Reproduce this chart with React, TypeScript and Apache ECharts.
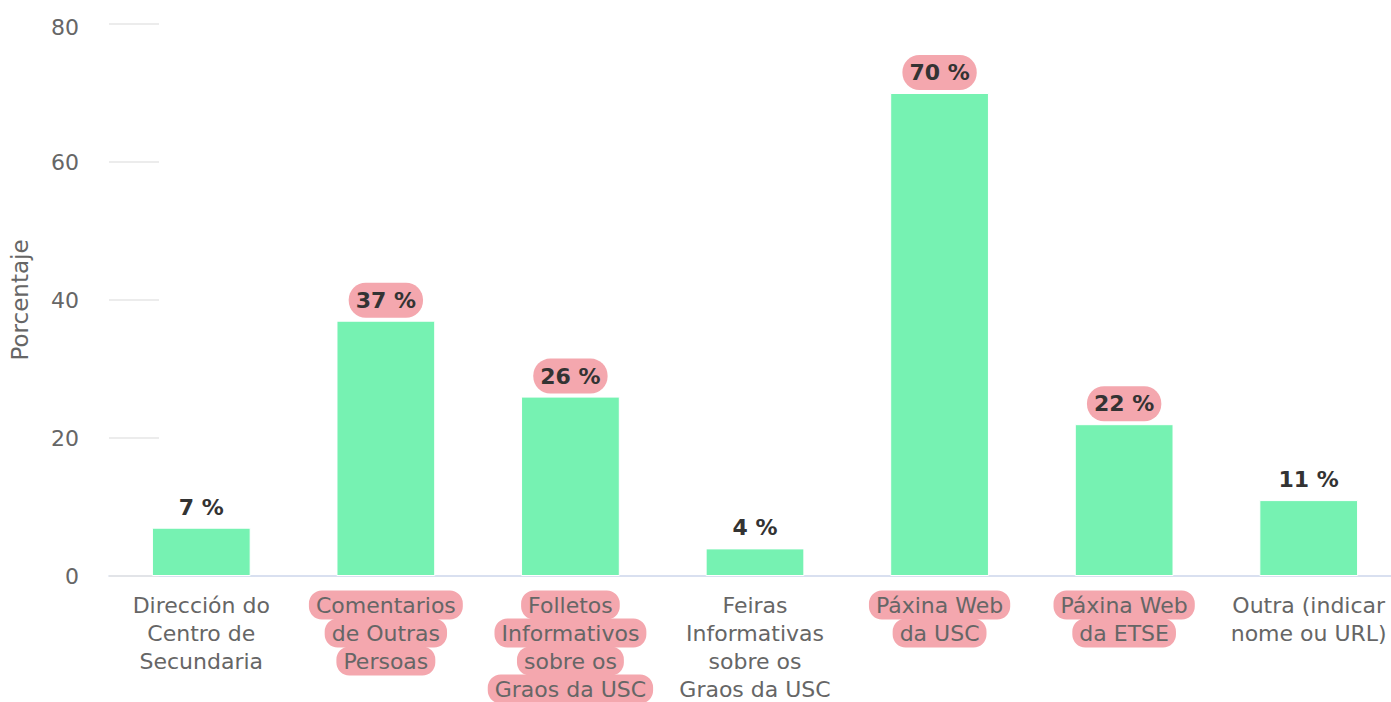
import React, { useEffect, useRef } from "react";
import * as echarts from "echarts";

const categories = [
  "Dirección do\nCentro de\nSecundaria",
  "Comentarios\nde Outras\nPersoas",
  "Folletos\nInformativos\nsobre os\nGraos da USC",
  "Feiras\nInformativas\nsobre os\nGraos da USC",
  "Páxina Web\nda USC",
  "Páxina Web\nda ETSE",
  "Outra (indicar\nnome ou URL)",
];
const values = [7, 37, 26, 4, 70, 22, 11];
const highlighted = [false, true, true, false, true, true, false];
const yTicks = { min: 0, max: 80, interval: 20 };

const FONT = "DejaVu Sans";
const PILL = "#f4a7ae";
const BAR = "#76f2b2";

export default function App() {
  const ref = useRef<HTMLDivElement>(null);
  useEffect(() => {
    if (!ref.current) return;
    const chart = echarts.init(ref.current, undefined, { renderer: "svg" });
    chart.setOption({
      animation: false,
      textStyle: { fontFamily: FONT },
      grid: {
        left: 109,
        top: 24,
        width: 1292,
        height: 552,
        containLabel: false,
        outerBoundsMode: "none",
      },
      xAxis: {
        type: "category",
        data: categories,
        axisLine: { show: true, lineStyle: { color: "#ccd6eb", width: 1.5 } },
        axisTick: { show: false },
        axisLabel: {
          interval: 0,
          margin: 15,
          fontFamily: FONT,
          fontSize: 22,
          color: "#666666",
          formatter: (val: string, idx: number) => {
            const key = highlighted[idx] ? "h" : "n";
            return val
              .split("\n")
              .map((l) => `{${key}|${l}}`)
              .join("\n");
          },
          rich: {
            h: {
              fontFamily: FONT,
              fontSize: 22,
              color: "#666666",
              lineHeight: 28,
              height: 29,
              padding: [0, 7],
              backgroundColor: PILL,
              borderRadius: 13,
            },
            n: {
              fontFamily: FONT,
              fontSize: 22,
              color: "#666666",
              lineHeight: 28,
              height: 29,
              padding: [0, 7],
            },
          },
        },
      },
      yAxis: {
        type: "value",
        min: yTicks.min,
        max: yTicks.max,
        interval: yTicks.interval,
        name: "Porcentaje",
        nameLocation: "middle",
        nameGap: 78,
        nameTextStyle: { fontFamily: FONT, fontSize: 23, color: "#666666" },
        axisLine: { show: false },
        axisTick: {
          show: true,
          inside: true,
          length: 50,
          lineStyle: { color: "#e6e6e6", width: 1.5 },
        },
        splitLine: { show: false },
        axisLabel: {
          margin: 30,
          fontFamily: FONT,
          fontSize: 22,
          color: "#666666",
          formatter: (v: number) => (v === yTicks.max ? `{top|${v}}` : `${v}`),
          rich: {
            top: {
              fontFamily: FONT,
              fontSize: 22,
              color: "#666666",
              padding: [6, 0, 0, 0],
            },
          },
        },
      },
      series: [
        {
          type: "bar",
          data: values.map((v, i) => ({
            value: v,
            label: highlighted[i]
              ? { backgroundColor: PILL, borderRadius: 17 }
              : {},
          })),
          barCategoryGap: "46.5%",
          itemStyle: { color: BAR, borderColor: "#ffffff", borderWidth: 1 },
          label: {
            show: true,
            position: "top",
            distance: 3,
            formatter: (p: any) => `${p.value} %`,
            fontFamily: FONT,
            fontSize: 22,
            fontWeight: "bold",
            color: "#333333",
            lineHeight: 25,
            padding: [5, 7],
          },
        },
      ],
    });
    return () => chart.dispose();
  }, []);
  return (
    <div
      style={{
        position: "fixed",
        left: 0,
        top: 0,
        width: 1391,
        height: 702,
        overflow: "hidden",
        background: "#fff",
      }}
    >
      <div ref={ref} style={{ width: 1410, height: 702 }} />
    </div>
  );
}
